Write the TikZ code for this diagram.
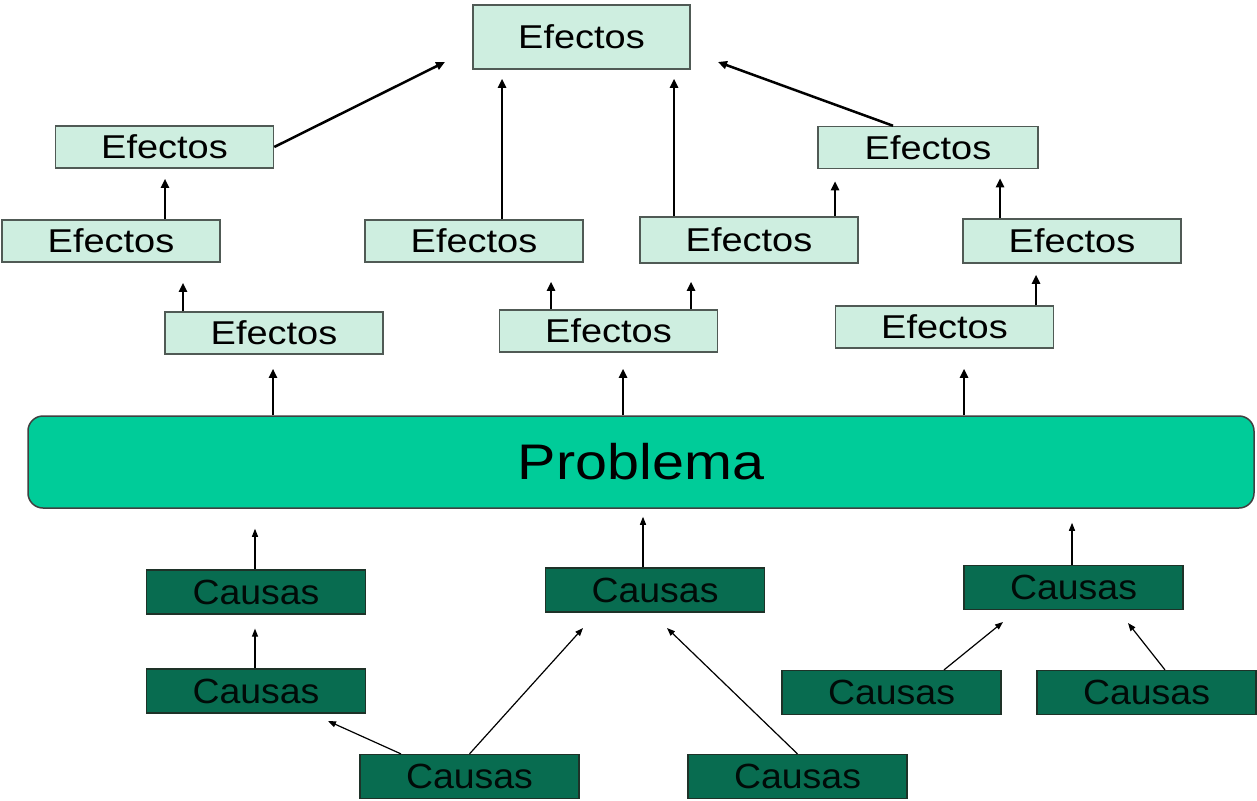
\documentclass[tikz,border=0pt]{standalone}
\usepackage{fontspec}
\setmainfont{Liberation Sans}
\newfontfamily\efont{Liberation Sans}[FakeStretch=1.15]
\newfontfamily\cfont{Liberation Sans}[FakeStretch=1.07]
\usetikzlibrary{arrows.meta}
\definecolor{efill}{RGB}{206,238,224}
\definecolor{eline}{RGB}{80,90,85}
\definecolor{pfill}{RGB}{0,204,153}
\definecolor{cfill}{RGB}{8,108,80}
\definecolor{cline}{RGB}{30,50,40}
\tikzset{
  efbox/.style={draw=eline, line width=1.5pt, fill=efill, minimum width=218pt,
    minimum height=42pt, inner sep=0pt, font=\efont\fontsize{33}{38}\selectfont},
  cabox/.style={draw=cline, line width=1.2pt, fill=cfill, minimum width=219pt,
    minimum height=44pt, inner sep=0pt, text=black!90!cfill,
    font=\cfont\fontsize{35}{40}\selectfont},
  pbox/.style={draw=black!75, line width=1.5pt, fill=pfill, rounded corners=15pt,
    minimum width=1226pt, minimum height=92pt, inner sep=0pt,
    font=\efont\fontsize{50}{56}\selectfont},
  thick arr/.style={line width=2.5pt, -{Triangle[length=9pt,width=8pt]}},
  thin arr/.style={line width=1.2pt, -{Triangle[length=8pt,width=6pt]}},
}
\begin{document}
\begin{tikzpicture}[x=1pt, y=-1pt]
\useasboundingbox (0,0) rectangle (1257,800);
\fill[white] (0,0) rectangle (1257,800);

% effects tree
\node[efbox, minimum height=64pt, minimum width=217pt] (T) at (581.5,37) {Efectos};
\node[efbox] (e2l) at (164.5,147) {Efectos};
\node[efbox] (e3l) at (111,241) {Efectos};
\node[efbox] (e4l) at (274,333) {Efectos};
\node[efbox] (e3m) at (474,241) {Efectos};
\node[efbox] (e4m) at (608.5,331) {Efectos};
\node[efbox, minimum height=46pt] (e3c) at (749,240) {Efectos};
\node[efbox, minimum width=220pt] (e2r) at (928,147.5) {Efectos};
\node[efbox, minimum height=44pt] (e3r) at (1072,241) {Efectos};
\node[efbox] (e4r) at (944.5,327) {Efectos};

% the problem bar
\node[pbox] (P) at (641,462) {Problema};

% causes
\node[cabox] (c1) at (256,592) {Causas};
\node[cabox] (c2) at (256,691) {Causas};
\node[cabox] (c3) at (469.5,776.5) {Causas};
\node[cabox] (c4) at (655,590) {Causas};
\node[cabox] (c5) at (797.5,776.5) {Causas};
\node[cabox] (c6) at (1073.5,587.5) {Causas};
\node[cabox] (c7) at (891.5,692.5) {Causas};
\node[cabox] (c8) at (1146.5,692.5) {Causas};

% free ends of the slanted connectors
\coordinate (tl) at (445,62);
\coordinate (tr) at (718,62);
\coordinate (c2in) at (328,721);
\coordinate (c4inl) at (583,628);
\coordinate (c4inr) at (667,628);
\coordinate (c6inl) at (1003,622);
\coordinate (c6inr) at (1128,623);

% effect connectors
\draw[thick arr] (e2l.east) -- (tl);
\draw[thick arr] ([xshift=-35pt]e2r.north) -- (tr);
\draw[thick arr, shorten >=10pt] ([xshift=54pt]e3l.north) -- ([xshift=54pt]e3l.north |- e2l.south);
\draw[thick arr, shorten >=20pt] ([xshift=-91pt]e4l.north) -- ([xshift=-91pt]e4l.north |- e3l.south);
\draw[thick arr, shorten >=19pt] ([xshift=-57.5pt]e4m.north) -- ([xshift=-57.5pt]e4m.north |- e3m.south);
\draw[thick arr, shorten >=18pt] ([xshift=82.5pt]e4m.north) -- ([xshift=82.5pt]e4m.north |- e3c.south);
\draw[thick arr, shorten >=9pt] ([xshift=28pt]e3m.north) -- ([xshift=28pt]e3m.north |- T.south);
\draw[thick arr, shorten >=9pt] ([xshift=-75pt]e3c.north) -- ([xshift=-75pt]e3c.north |- T.south);
\draw[thick arr, shorten >=12pt] ([xshift=86pt]e3c.north) -- ([xshift=86pt]e3c.north |- e2r.south);
\draw[thick arr, shorten >=11pt] ([xshift=91.5pt]e4r.north) -- ([xshift=91.5pt]e4r.north |- e3r.south);
\draw[thick arr, shorten >=9pt] ([xshift=-72pt]e3r.north) -- ([xshift=-72pt]e3r.north |- e2r.south);
\draw[thick arr, shorten >=14pt] ([xshift=-368pt]P.north) -- ([xshift=-368pt]P.north |- e4l.south);
\draw[thick arr, shorten >=16pt] ([xshift=-18pt]P.north) -- ([xshift=-18pt]P.north |- e4m.south);
\draw[thick arr, shorten >=20pt] ([xshift=323pt]P.north) -- ([xshift=323pt]P.north |- e4r.south);

% cause connectors
\draw[thin arr, shorten >=20pt] ([xshift=-1pt]c1.north) -- ([xshift=-1pt]c1.north |- P.south);
\draw[thin arr, shorten >=14pt] ([xshift=-1pt]c2.north) -- ([xshift=-1pt]c2.north |- c1.south);
\draw[thin arr, shorten >=8pt] ([xshift=-12pt]c4.north) -- ([xshift=-12pt]c4.north |- P.south);
\draw[thin arr, shorten >=14pt] ([xshift=-1.5pt]c6.north) -- ([xshift=-1.5pt]c6.north |- P.south);
\draw[thin arr] ([xshift=-68.5pt]c3.north) -- (c2in);
\draw[thin arr] (c3.north) -- (c4inl);
\draw[thin arr] (c5.north) -- (c4inr);
\draw[thin arr] ([xshift=52.5pt]c7.north) -- (c6inl);
\draw[thin arr] ([xshift=18.5pt]c8.north) -- (c6inr);
\end{tikzpicture}
\end{document}
